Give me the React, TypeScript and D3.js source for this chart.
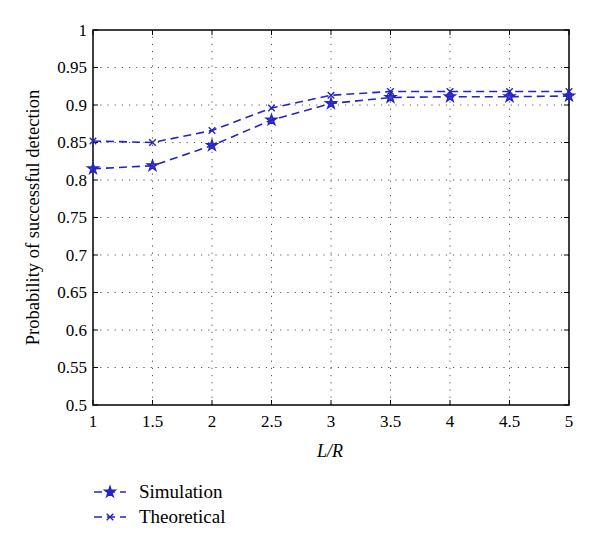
import React, { useEffect, useRef } from 'react';
import * as d3 from 'd3';

const ratios: number[] = [1, 1.5, 2, 2.5, 3, 3.5, 4, 4.5, 5];
const simulation: number[] = [0.815, 0.819, 0.846, 0.88, 0.902, 0.91, 0.911, 0.911, 0.912];
const theoretical: number[] = [0.852, 0.85, 0.866, 0.896, 0.913, 0.918, 0.918, 0.918, 0.918];
const xTicks: number[] = [1, 1.5, 2, 2.5, 3, 3.5, 4, 4.5, 5];
const yTicks: number[] = [0.5, 0.55, 0.6, 0.65, 0.7, 0.75, 0.8, 0.85, 0.9, 0.95, 1];
const seriesNames: string[] = ['Simulation', 'Theoretical'];

const App: React.FC = () => {
  const ref = useRef<SVGSVGElement | null>(null);

  useEffect(() => {
    if (!ref.current) return;
    const W = 600;
    const H = 544;
    const m = { left: 93, right: 31, top: 30, bottom: 139 };
    const blue = '#2424c4';
    const font = '"Liberation Serif", "DejaVu Serif", serif';

    const svg = d3.select(ref.current);
    svg.selectAll('*').remove();
    svg.attr('width', W).attr('height', H);

    const x = d3.scaleLinear().domain([1, 5]).range([m.left, W - m.right]);
    const y = d3.scaleLinear().domain([0.5, 1]).range([H - m.bottom, m.top]);
    const [x0, x1] = x.range();
    const [y0, y1] = y.range();

    // grid
    const grid = svg.append('g').attr('stroke', '#555').attr('stroke-width', 1).attr('stroke-dasharray', '1.2,6');
    grid.selectAll('.gx').data(xTicks.slice(1, -1)).enter().append('line')
      .attr('x1', (d) => x(d)).attr('x2', (d) => x(d)).attr('y1', y0).attr('y2', y1);
    grid.selectAll('.gy').data(yTicks.slice(1, -1)).enter().append('line')
      .attr('y1', (d) => y(d)).attr('y2', (d) => y(d)).attr('x1', x0).attr('x2', x1);

    // box
    svg.append('rect').attr('x', x0).attr('y', y1).attr('width', x1 - x0).attr('height', y0 - y1)
      .attr('fill', 'none').attr('stroke', '#000').attr('stroke-width', 1.5);

    // inner ticks on all sides
    const tk = svg.append('g').attr('stroke', '#000').attr('stroke-width', 1);
    xTicks.forEach((t) => {
      tk.append('line').attr('x1', x(t)).attr('x2', x(t)).attr('y1', y0).attr('y2', y0 - 5);
      tk.append('line').attr('x1', x(t)).attr('x2', x(t)).attr('y1', y1).attr('y2', y1 + 5);
    });
    yTicks.forEach((t) => {
      tk.append('line').attr('y1', y(t)).attr('y2', y(t)).attr('x1', x0).attr('x2', x0 + 5);
      tk.append('line').attr('y1', y(t)).attr('y2', y(t)).attr('x1', x1).attr('x2', x1 - 5);
    });

    // tick labels
    svg.append('g').selectAll('text').data(xTicks).enter().append('text')
      .attr('x', (d) => x(d)).attr('y', y0 + 22).attr('text-anchor', 'middle')
      .attr('font-family', font).attr('font-size', 17).text((d) => String(d));
    svg.append('g').selectAll('text').data(yTicks).enter().append('text')
      .attr('x', x0 - 6).attr('y', (d) => y(d) + 5.5).attr('text-anchor', 'end')
      .attr('font-family', font).attr('font-size', 17).text((d) => String(d));

    // axis titles
    svg.append('text').attr('x', (x0 + x1) / 2 - 1).attr('y', 457).attr('text-anchor', 'middle')
      .attr('font-family', font).attr('font-size', 18).attr('font-style', 'italic').text('L/R');
    svg.append('text')
      .attr('transform', `translate(39, ${(y0 + y1) / 2}) rotate(-90)`)
      .attr('text-anchor', 'middle').attr('font-family', font).attr('font-size', 18.5)
      .text('Probability of successful detection');

    const starSym = d3.symbol().type(d3.symbolStar).size(34);
    const xType = (d3 as any).symbolX || d3.symbolCross;
    const xSym = d3.symbol().type(xType).size(30);

    const line = d3.line<number>().x((_, i) => x(ratios[i])).y((d) => y(d));
    const series = [
      { name: seriesNames[0], values: simulation, sym: starSym, fill: blue },
      { name: seriesNames[1], values: theoretical, sym: xSym, fill: 'none' },
    ];

    series.forEach((s) => {
      svg.append('path').attr('d', line(s.values)).attr('fill', 'none').attr('stroke', blue)
        .attr('stroke-width', 1.6).attr('stroke-dasharray', '8,5');
      svg.append('g').selectAll('path').data(s.values).enter().append('path')
        .attr('d', s.sym as any)
        .attr('transform', (d, i) => `translate(${x(ratios[i])},${y(d)})`)
        .attr('fill', s.fill).attr('fill-opacity', 0.85).attr('stroke', blue).attr('stroke-width', 1.4);
    });

    // legend
    const lg = svg.append('g');
    series.forEach((s, i) => {
      const ly = 492 + i * 25;
      lg.append('line').attr('x1', 94).attr('x2', 126).attr('y1', ly).attr('y2', ly)
        .attr('stroke', blue).attr('stroke-width', 1.6).attr('stroke-dasharray', '8,5');
      lg.append('path').attr('d', s.sym as any).attr('transform', `translate(110,${ly})`)
        .attr('fill', s.fill).attr('stroke', blue).attr('stroke-width', 1.4);
      lg.append('text').attr('x', 139).attr('y', ly + 6).attr('font-family', font)
        .attr('font-size', 19).text(s.name);
    });
  }, []);

  return <svg ref={ref} style={{ position: 'absolute', left: 0, top: 0 }}></svg>;
};

export default App;
